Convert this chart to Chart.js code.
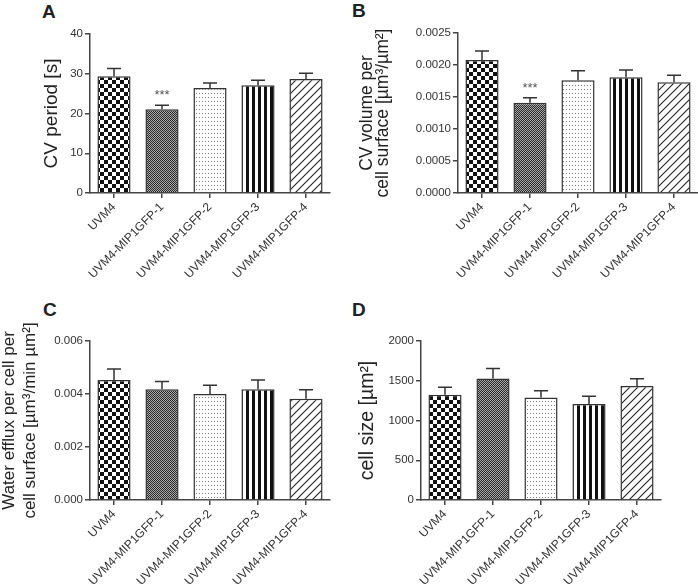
<!DOCTYPE html>
<html><head><meta charset="utf-8">
<script src="https://cdn.jsdelivr.net/npm/chart.js@4.4.0/dist/chart.umd.min.js"></script>
<style>
html,body{margin:0;padding:0;background:#fff;}
body{width:698px;height:584px;position:relative;overflow:hidden;font-family:'Liberation Sans',Arial,sans-serif;}
.panel{position:absolute;}
.letter{position:absolute;font-weight:bold;font-size:19px;line-height:1;color:#222;font-family:'Liberation Sans',Arial,sans-serif;}
</style></head><body>
<div class="letter" style="left:42px;top:2px">A</div>
<div class="letter" style="left:352px;top:1px">B</div>
<div class="letter" style="left:43px;top:300px">C</div>
<div class="letter" style="left:352px;top:300px">D</div>
<div class="panel" id="pA" style="left:0;top:0;width:349px;height:292px"><canvas id="cA"></canvas></div>
<div class="panel" id="pB" style="left:349px;top:0;width:349px;height:292px"><canvas id="cB"></canvas></div>
<div class="panel" id="pC" style="left:0;top:292px;width:349px;height:292px"><canvas id="cC"></canvas></div>
<div class="panel" id="pD" style="left:349px;top:292px;width:349px;height:292px"><canvas id="cD"></canvas></div>
<script>
// ---- data ----
const categories = ['UVM4', 'UVM4-MIP1GFP-1', 'UVM4-MIP1GFP-2', 'UVM4-MIP1GFP-3', 'UVM4-MIP1GFP-4'];
const cvPeriod = [29.4, 21.1, 26.4, 27.1, 28.7];
const cvPeriodSem = [1.9, 1.0, 1.3, 1.25, 1.4];
const cvVolume = [0.00208, 0.00141, 0.00176, 0.00181, 0.00173];
const cvVolumeSem = [0.00014, 0.00008, 0.00015, 0.00011, 0.00011];
const waterEfflux = [0.00453, 0.00418, 0.00400, 0.00418, 0.00382];
const waterEffluxSem = [0.00041, 0.00029, 0.00033, 0.00035, 0.00034];
const cellSize = [1325, 1529, 1288, 1208, 1434];
const cellSizeSem = [92, 125, 87, 96, 91];
const yTicksA = [0, 10, 20, 30, 40];
const yTicksB = [0, 0.0005, 0.0010, 0.0015, 0.0020, 0.0025];
const yTicksC = [0, 0.002, 0.004, 0.006];
const yTicksD = [0, 500, 1000, 1500, 2000];
const sigA = ['', '***', '', '', ''];
const sigB = ['', '***', '', '', ''];
const titleA = ['CV period [s]'];
const titleB = ['CV volume per', 'cell surface [µm³/µm²]'];
const titleC = ['Water efflux per cell per', 'cell surface [µm³/min µm²]'];
const titleD = ['cell size [µm²]'];

// ---- patterns ----
function makePattern(w, h, draw) {
  const c = document.createElement('canvas');
  c.width = w; c.height = h;
  const x = c.getContext('2d');
  x.fillStyle = '#fff'; x.fillRect(0, 0, w, h);
  draw(x, w, h);
  return x.createPattern(c, 'repeat');
}
const patChecker = makePattern(8, 8, (x) => { x.fillStyle = '#111'; x.fillRect(0, 0, 4, 4); x.fillRect(4, 4, 4, 4); });
const patFine = makePattern(2, 2, (x) => { x.fillStyle = '#2a2a2a'; x.fillRect(0, 0, 1, 1); x.fillRect(1, 1, 1, 1); x.fillStyle = '#a8a8a8'; x.fillRect(1, 0, 1, 1); x.fillRect(0, 1, 1, 1); });
const patDots = makePattern(3, 4, (x) => { x.fillStyle = '#777'; x.fillRect(1, 1, 1, 1); });
const patStripes = makePattern(6, 1, (x) => { x.fillStyle = '#111'; x.fillRect(0, 0, 3, 1); });
const patHatch = makePattern(8, 8, (x) => {
  x.strokeStyle = '#222'; x.lineWidth = 1.1;
  for (const o of [-8, 0, 8]) { x.beginPath(); x.moveTo(o - 1, 9); x.lineTo(o + 9, -1); x.stroke(); }
});
const fills = [patChecker, patFine, patDots, patStripes, patHatch];

const FONT = "'Liberation Sans', Arial, sans-serif";

function extrasPlugin(sem, sig, title) {
  return {
    id: 'extras',
    afterDatasetsDraw(chart) {
      const ctx = chart.ctx, y = chart.scales.y;
      const meta = chart.getDatasetMeta(0);
      const vals = chart.data.datasets[0].data;
      ctx.save();
      ctx.strokeStyle = '#333'; ctx.lineWidth = 1.5;
      meta.data.forEach((bar, i) => {
        const top = y.getPixelForValue(vals[i] + sem[i]);
        ctx.beginPath();
        ctx.moveTo(bar.x, bar.y); ctx.lineTo(bar.x, top);
        ctx.moveTo(bar.x - 7, top); ctx.lineTo(bar.x + 7, top);
        ctx.stroke();
        if (sig && sig[i]) {
          ctx.fillStyle = '#555'; ctx.font = '13px ' + FONT;
          ctx.textAlign = 'center'; ctx.textBaseline = 'alphabetic';
          ctx.fillText(sig[i], bar.x, top - 6);
        }
      });
      ctx.restore();
    },
    afterDraw(chart) {
      const ctx = chart.ctx, a = chart.chartArea;
      const cy = (a.top + a.bottom) / 2 + (title.dy || 0);
      ctx.save();
      ctx.fillStyle = '#222';
      ctx.font = title.size + 'px ' + FONT;
      ctx.textAlign = 'center'; ctx.textBaseline = 'alphabetic';
      title.lines.forEach((line, k) => {
        ctx.save();
        ctx.translate(title.xs[k], cy);
        ctx.rotate(-Math.PI / 2);
        ctx.fillText(line, 0, 0);
        ctx.restore();
      });
      ctx.restore();
    }
  };
}

function makeChart(id, values, sem, sig, ticks, decimals, layout, title) {
  const axisColor = '#444';
  return new Chart(document.getElementById(id), {
    type: 'bar',
    data: {
      labels: categories,
      datasets: [{
        data: values,
        backgroundColor: fills,
        borderColor: '#333',
        borderWidth: 1.5,
        categoryPercentage: 1.0,
        barPercentage: 0.69
      }]
    },
    options: {
      responsive: true,
      maintainAspectRatio: false,
      animation: false,
      devicePixelRatio: 1,
      layout: { padding: layout.padding },
      plugins: { legend: { display: false }, tooltip: { enabled: false } },
      scales: {
        x: {
          grid: { display: true, drawOnChartArea: false, drawTicks: true, tickLength: 5, color: axisColor, lineWidth: 1.5, offset: false },
          border: { display: true, color: axisColor, width: 1.5 },
          ticks: { autoSkip: false, minRotation: 45, maxRotation: 45, padding: 2, color: '#333', font: { size: 12, family: FONT } },
          afterFit: (s) => { s.height = layout.xHeight; }
        },
        y: {
          min: ticks[0], max: ticks[ticks.length - 1],
          grid: { display: true, drawOnChartArea: false, drawTicks: true, tickLength: 5, color: axisColor, lineWidth: 1.5 },
          border: { display: true, color: axisColor, width: 1.5 },
          ticks: { padding: 2, color: '#333', font: { size: 11.5, family: FONT },
            callback: (v) => Number(v).toFixed(decimals) },
          afterBuildTicks: (s) => { s.ticks = ticks.map(v => ({ value: v })); },
          afterFit: (s) => { s.width = layout.yWidth; }
        }
      }
    },
    plugins: [extrasPlugin(sem, sig, title)]
  });
}

makeChart('cA', cvPeriod, cvPeriodSem, sigA, yTicksA, 0,
  { padding: { top: 34, right: 19, left: 0, bottom: 0 }, yWidth: 90, xHeight: 99 },
  { lines: titleA, size: 19, xs: [56.6] });
makeChart('cB', cvVolume, cvVolumeSem, sigB, yTicksB, 4,
  { padding: { top: 33, right: 0, left: 0, bottom: 0 }, yWidth: 109, xHeight: 99 },
  { lines: titleB, size: 17.5, xs: [22.8, 39.2] });
makeChart('cC', waterEfflux, waterEffluxSem, null, yTicksC, 3,
  { padding: { top: 49, right: 19, left: 0, bottom: 0 }, yWidth: 90, xHeight: 84 },
  { lines: titleC, size: 17, xs: [13.9, 34.9] });
makeChart('cD', cellSize, cellSizeSem, null, yTicksD, 0,
  { padding: { top: 49, right: 37, left: 0, bottom: 0 }, yWidth: 72, xHeight: 84 },
  { lines: titleD, size: 19.5, xs: [24] });
</script>
</body></html>
